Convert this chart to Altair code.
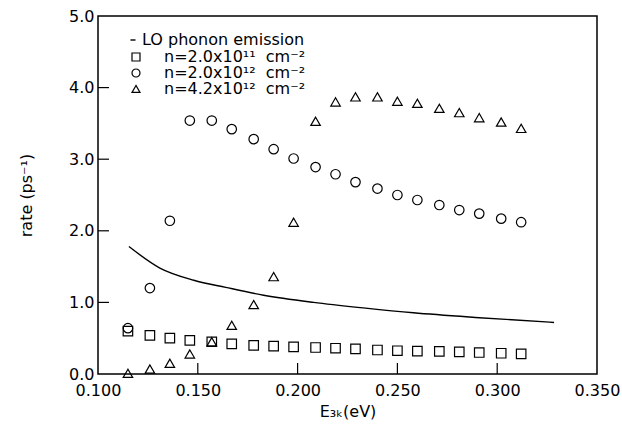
import altair as alt
import pandas as pd

# ---- data ----
energy = [0.115, 0.126, 0.136, 0.146, 0.157, 0.167, 0.178, 0.188, 0.198, 0.209,
          0.219, 0.229, 0.240, 0.250, 0.260, 0.271, 0.281, 0.291, 0.302, 0.312]
rate_n1 = [0.60, 0.54, 0.50, 0.47, 0.45, 0.42, 0.40, 0.39, 0.38, 0.37,
           0.36, 0.35, 0.335, 0.325, 0.32, 0.315, 0.31, 0.30, 0.29, 0.28]
rate_n2 = [0.64, 1.20, 2.14, 3.54, 3.54, 3.42, 3.28, 3.14, 3.01, 2.89,
           2.79, 2.68, 2.59, 2.50, 2.43, 2.36, 2.29, 2.24, 2.17, 2.12]
rate_n3 = [0.01, 0.07, 0.15, 0.28, 0.45, 0.68, 0.97, 1.36, 2.12, 3.53,
           3.80, 3.87, 3.87, 3.81, 3.78, 3.71, 3.65, 3.58, 3.52, 3.43]

lo_energy = [0.1155, 0.131, 0.148, 0.164, 0.183, 0.208, 0.234, 0.258, 0.289, 0.3285]
lo_rate = [1.78, 1.48, 1.31, 1.21, 1.10, 1.00, 0.92, 0.855, 0.79, 0.72]
lo_label = "LO phonon emission"

series_labels = ["n=2.0x10¹¹\u00a0 cm⁻²", "n=2.0x10¹²\u00a0 cm⁻²", "n=4.2x10¹²\u00a0 cm⁻²"]
series_shapes = ["square", "circle", "triangle-up"]

x_ticks = [0.100, 0.150, 0.200, 0.250, 0.300, 0.350]
y_ticks = [0.0, 1.0, 2.0, 3.0, 4.0, 5.0]
inner_x_ticks = [0.150, 0.200, 0.250, 0.300]
inner_y_ticks = [1.0, 2.0, 3.0, 4.0]

# ---- tables ----
rows = []
for lab, vals in zip(series_labels, [rate_n1, rate_n2, rate_n3]):
    for e, r in zip(energy, vals):
        rows.append({"E": e, "rate": r, "series": lab})
pts = pd.DataFrame(rows)
lo = pd.DataFrame({"E": lo_energy, "rate": lo_rate, "lab": lo_label})

W, H = 499, 358
FONT = "DejaVu Sans"

xscale = alt.Scale(domain=[0.1, 0.35], nice=False, zero=False)
yscale = alt.Scale(domain=[0, 5], nice=False)

xaxis = alt.Axis(values=x_ticks, format=".3f", ticks=False, grid=False, domain=False,
                 labelFlush=False, labelOverlap=False,
                 labelPadding=8, labelFontSize=16, labelFont=FONT, labelColor="black",
                 title="E₃ₖ(eV)", titleFontSize=16, titleFont=FONT, titleFontWeight="normal",
                 titleColor="black", titleX=W / 2, titleY=37, titleBaseline="middle")
yaxis = alt.Axis(values=y_ticks, format=".1f", ticks=False, grid=False, domain=False,
                 labelFlush=False, labelOverlap=False,
                 labelPadding=4, labelFontSize=16, labelFont=FONT, labelColor="black",
                 title="rate (ps⁻¹)", titleFontSize=16, titleFont=FONT, titleFontWeight="normal",
                 titleColor="black", titleX=-72, titleY=H / 2, titleBaseline="middle")

line = alt.Chart(lo).mark_line(strokeWidth=1.4, interpolate="monotone").encode(
    x=alt.X("E:Q", scale=xscale, axis=xaxis),
    y=alt.Y("rate:Q", scale=yscale, axis=yaxis),
    color=alt.Color("lab:N", scale=alt.Scale(domain=[lo_label], range=["black"]),
                    legend=alt.Legend(title=None, orient="none", legendX=27, legendY=16,
                                      symbolType="stroke", symbolSize=25, symbolStrokeWidth=1.4,
                                      symbolStrokeColor="black",
                                      labelFontSize=16, labelFont=FONT, labelColor="black",
                                      labelOffset=1, labelLimit=400, padding=0)),
)

points = alt.Chart(pts).mark_point(filled=False, color="black", strokeWidth=1.2, size=90, opacity=1).encode(
    x=alt.X("E:Q", scale=xscale),
    y=alt.Y("rate:Q", scale=yscale),
    shape=alt.Shape("series:N",
                    scale=alt.Scale(domain=series_labels, range=series_shapes),
                    legend=alt.Legend(title=None, orient="none",
                                      legendX=30, legendY=33,
                                      labelFontSize=16, labelFont=FONT, labelColor="black",
                                      labelOffset=20, labelLimit=400, rowPadding=0, padding=0,
                                      symbolSize=64, symbolStrokeWidth=1.2,
                                      symbolStrokeColor="black", symbolFillColor="transparent")),
)

xt = pd.DataFrame({"t": inner_x_ticks})
yt = pd.DataFrame({"t": inner_y_ticks})
xtick_rules = alt.Chart(xt).mark_rule(color="black", strokeWidth=1.2).encode(
    x=alt.X("t:Q", scale=xscale), y=alt.value(H), y2=alt.value(H - 11))
ytick_rules = alt.Chart(yt).mark_rule(color="black", strokeWidth=1.2).encode(
    y=alt.Y("t:Q", scale=yscale), x=alt.value(0), x2=alt.value(11))

chart = alt.layer(line, points, xtick_rules, ytick_rules).properties(
    width=W, height=H,
    autosize=alt.AutoSizeParams(type="none"),
    padding={"left": 98, "top": 16, "right": 25, "bottom": 59},
    background="white",
).resolve_legend(color="independent", shape="independent").configure_view(stroke="black", strokeWidth=1.5)

chart.save("out.html", embed_options={"renderer": "svg", "actions": False})
